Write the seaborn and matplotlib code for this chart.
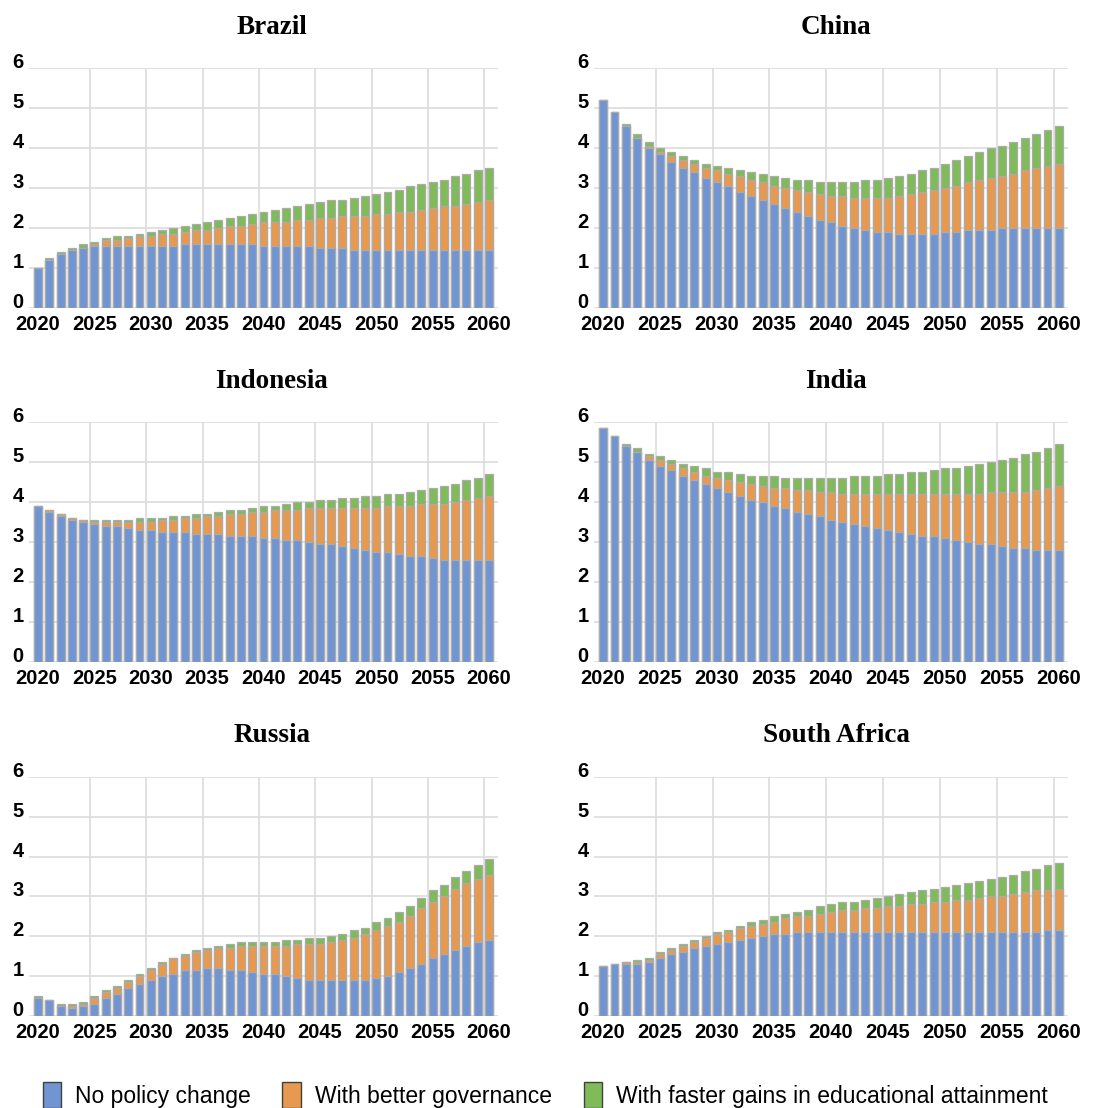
import matplotlib
matplotlib.use("Agg")
import matplotlib.pyplot as plt
from matplotlib.patches import Patch
import seaborn as sns

YEARS = [str(y) for y in range(2020, 2061)]

# levels (stacked tops): base, + governance, + education
brazil_base = [1.0, 1.2, 1.35, 1.45, 1.5, 1.55, 1.55, 1.55, 1.55, 1.55, 1.55, 1.55, 1.55, 1.6, 1.6, 1.6, 1.6, 1.6, 1.6, 1.6,
               1.55, 1.55, 1.55, 1.55, 1.55, 1.5, 1.5, 1.5, 1.45, 1.45, 1.45, 1.45, 1.45, 1.45, 1.45, 1.45, 1.45, 1.45, 1.45, 1.45, 1.45]
brazil_gov = [1.0, 1.2, 1.35, 1.45, 1.5, 1.6, 1.7, 1.7, 1.75, 1.8, 1.8, 1.85, 1.85, 1.9, 1.95, 1.95, 2.0, 2.05, 2.05, 2.1,
              2.15, 2.15, 2.15, 2.2, 2.2, 2.25, 2.25, 2.3, 2.3, 2.3, 2.35, 2.35, 2.4, 2.4, 2.45, 2.5, 2.55, 2.55, 2.6, 2.65, 2.7]
brazil_edu = [1.0, 1.25, 1.4, 1.5, 1.6, 1.65, 1.75, 1.8, 1.8, 1.85, 1.9, 1.95, 2.0, 2.05, 2.1, 2.15, 2.2, 2.25, 2.3, 2.35,
              2.4, 2.45, 2.5, 2.55, 2.6, 2.65, 2.7, 2.7, 2.75, 2.8, 2.85, 2.9, 2.95, 3.05, 3.1, 3.15, 3.2, 3.3, 3.35, 3.45, 3.5]

china_base = [5.2, 4.9, 4.55, 4.25, 4.0, 3.85, 3.65, 3.5, 3.4, 3.25, 3.15, 3.05, 2.9, 2.8, 2.7, 2.6, 2.5, 2.4, 2.3, 2.2,
              2.15, 2.05, 2.0, 1.95, 1.9, 1.9, 1.85, 1.85, 1.85, 1.85, 1.9, 1.9, 1.95, 1.95, 1.95, 2.0, 2.0, 2.0, 2.0, 2.0, 2.0]
china_gov = [5.2, 4.9, 4.55, 4.25, 4.05, 3.9, 3.8, 3.7, 3.6, 3.5, 3.45, 3.35, 3.3, 3.2, 3.15, 3.05, 3.0, 2.95, 2.9, 2.85,
             2.8, 2.8, 2.75, 2.75, 2.75, 2.75, 2.8, 2.85, 2.9, 2.95, 3.0, 3.05, 3.15, 3.2, 3.25, 3.3, 3.35, 3.45, 3.5, 3.55, 3.6]
china_edu = [5.2, 4.9, 4.6, 4.35, 4.15, 4.0, 3.9, 3.8, 3.7, 3.6, 3.55, 3.5, 3.45, 3.4, 3.35, 3.3, 3.25, 3.2, 3.2, 3.15,
             3.15, 3.15, 3.15, 3.2, 3.2, 3.25, 3.3, 3.35, 3.45, 3.5, 3.6, 3.7, 3.8, 3.9, 4.0, 4.05, 4.15, 4.25, 4.35, 4.45, 4.55]

indonesia_base = [3.9, 3.75, 3.65, 3.55, 3.5, 3.45, 3.4, 3.4, 3.35, 3.3, 3.3, 3.25, 3.25, 3.25, 3.2, 3.2, 3.2, 3.15, 3.15, 3.15,
                  3.1, 3.1, 3.05, 3.05, 3.0, 2.95, 2.95, 2.9, 2.85, 2.8, 2.75, 2.75, 2.7, 2.65, 2.65, 2.6, 2.55, 2.55, 2.55, 2.55, 2.55]
indonesia_gov = [3.9, 3.8, 3.7, 3.6, 3.55, 3.5, 3.5, 3.5, 3.5, 3.5, 3.5, 3.55, 3.55, 3.6, 3.6, 3.65, 3.65, 3.7, 3.7, 3.75,
                 3.75, 3.8, 3.8, 3.8, 3.85, 3.85, 3.85, 3.85, 3.85, 3.85, 3.85, 3.9, 3.9, 3.9, 3.95, 3.95, 3.95, 4.0, 4.05, 4.1, 4.15]
indonesia_edu = [3.9, 3.8, 3.7, 3.6, 3.55, 3.55, 3.55, 3.55, 3.55, 3.6, 3.6, 3.6, 3.65, 3.65, 3.7, 3.7, 3.75, 3.8, 3.8, 3.85,
                 3.9, 3.9, 3.95, 4.0, 4.0, 4.05, 4.05, 4.1, 4.1, 4.15, 4.15, 4.2, 4.2, 4.25, 4.3, 4.35, 4.4, 4.45, 4.55, 4.6, 4.7]

india_base = [5.85, 5.65, 5.4, 5.25, 5.05, 4.9, 4.8, 4.65, 4.55, 4.45, 4.35, 4.25, 4.15, 4.05, 4.0, 3.9, 3.85, 3.75, 3.7, 3.65,
              3.55, 3.5, 3.45, 3.4, 3.35, 3.3, 3.25, 3.2, 3.15, 3.15, 3.1, 3.05, 3.0, 2.95, 2.95, 2.9, 2.85, 2.85, 2.8, 2.8, 2.8]
india_gov = [5.85, 5.65, 5.4, 5.25, 5.15, 5.05, 4.95, 4.85, 4.75, 4.65, 4.6, 4.55, 4.5, 4.45, 4.4, 4.35, 4.35, 4.3, 4.3, 4.25,
             4.25, 4.2, 4.2, 4.2, 4.2, 4.2, 4.2, 4.2, 4.2, 4.2, 4.2, 4.2, 4.2, 4.2, 4.25, 4.25, 4.25, 4.25, 4.3, 4.35, 4.4]
india_edu = [5.85, 5.65, 5.45, 5.35, 5.2, 5.15, 5.05, 4.95, 4.9, 4.85, 4.75, 4.75, 4.7, 4.65, 4.65, 4.65, 4.6, 4.6, 4.6, 4.6,
             4.6, 4.6, 4.65, 4.65, 4.65, 4.7, 4.7, 4.75, 4.75, 4.8, 4.85, 4.85, 4.9, 4.95, 5.0, 5.05, 5.1, 5.2, 5.25, 5.35, 5.45]

russia_base = [0.45, 0.4, 0.25, 0.2, 0.25, 0.3, 0.45, 0.55, 0.7, 0.8, 0.9, 1.0, 1.05, 1.15, 1.15, 1.2, 1.2, 1.15, 1.15, 1.1,
               1.05, 1.05, 1.0, 0.95, 0.9, 0.9, 0.9, 0.9, 0.9, 0.9, 0.95, 1.0, 1.1, 1.2, 1.3, 1.45, 1.55, 1.65, 1.75, 1.85, 1.9]
russia_gov = [0.45, 0.4, 0.25, 0.25, 0.3, 0.45, 0.6, 0.7, 0.85, 1.0, 1.15, 1.3, 1.45, 1.5, 1.6, 1.65, 1.7, 1.7, 1.75, 1.75,
              1.75, 1.75, 1.75, 1.8, 1.8, 1.8, 1.85, 1.9, 1.95, 2.05, 2.15, 2.25, 2.35, 2.5, 2.7, 2.85, 3.0, 3.2, 3.35, 3.45, 3.55]
russia_edu = [0.5, 0.4, 0.3, 0.3, 0.35, 0.5, 0.65, 0.75, 0.9, 1.05, 1.2, 1.35, 1.45, 1.55, 1.65, 1.7, 1.75, 1.8, 1.85, 1.85,
              1.85, 1.85, 1.9, 1.9, 1.95, 1.95, 2.0, 2.05, 2.15, 2.2, 2.35, 2.45, 2.6, 2.75, 2.95, 3.15, 3.3, 3.5, 3.65, 3.8, 3.95]

safrica_base = [1.25, 1.3, 1.3, 1.3, 1.35, 1.45, 1.55, 1.6, 1.7, 1.75, 1.8, 1.85, 1.9, 1.95, 2.0, 2.05, 2.05, 2.1, 2.1, 2.1,
                2.1, 2.1, 2.1, 2.1, 2.1, 2.1, 2.1, 2.1, 2.1, 2.1, 2.1, 2.1, 2.1, 2.1, 2.1, 2.1, 2.1, 2.1, 2.1, 2.15, 2.15]
safrica_gov = [1.25, 1.3, 1.35, 1.35, 1.4, 1.55, 1.65, 1.75, 1.85, 1.95, 2.05, 2.1, 2.2, 2.25, 2.3, 2.35, 2.45, 2.5, 2.5, 2.55,
               2.6, 2.65, 2.65, 2.7, 2.7, 2.75, 2.75, 2.8, 2.8, 2.85, 2.85, 2.9, 2.9, 2.95, 3.0, 3.0, 3.05, 3.1, 3.15, 3.15, 3.2]
safrica_edu = [1.25, 1.3, 1.35, 1.4, 1.45, 1.6, 1.7, 1.8, 1.9, 2.0, 2.1, 2.15, 2.25, 2.35, 2.4, 2.5, 2.55, 2.6, 2.65, 2.75,
               2.8, 2.85, 2.85, 2.9, 2.95, 3.0, 3.05, 3.1, 3.15, 3.2, 3.25, 3.3, 3.35, 3.4, 3.45, 3.5, 3.55, 3.65, 3.7, 3.8, 3.85]

COUNTRIES = ["Brazil", "China", "Indonesia", "India", "Russia", "South Africa"]
SERIES = {
    "Brazil": (brazil_base, brazil_gov, brazil_edu),
    "China": (china_base, china_gov, china_edu),
    "Indonesia": (indonesia_base, indonesia_gov, indonesia_edu),
    "India": (india_base, india_gov, india_edu),
    "Russia": (russia_base, russia_gov, russia_edu),
    "South Africa": (safrica_base, safrica_gov, safrica_edu),
}
LABELS = ["No policy change", "With better governance", "With faster gains in educational attainment"]
COLORS = ["#7195d2", "#e6994f", "#7fbb58"]
EDGE = "#ababab"

sns.set_style("white")
plt.rcParams["font.family"] = ["Liberation Sans", "DejaVu Sans"]

W, H = 1095, 1108
fig = plt.figure(figsize=(W / 100, H / 100), dpi=100)

# pixel boxes (left, right, top, bottom) of each plot area
cols = [(29, 498), (594, 1068)]
rows = [(67.7, 308.3), (422.4, 661.7), (777.2, 1015.7)]
title_y = [27, 381, 736]
title_x = [272, 836]

for k, name in enumerate(COUNTRIES):
    r, c = divmod(k, 2)
    x0, x1 = cols[c]
    top, bot = rows[r]
    ax = fig.add_axes([x0 / W, 1 - bot / H, (x1 - x0) / W, (bot - top) / H])
    base, gov, edu = SERIES[name]
    # draw from the tallest level down so the segments look stacked
    for vals, col in zip([edu, gov, base], COLORS[::-1]):
        sns.barplot(x=YEARS, y=vals, color=col, saturation=1, width=0.7, edgecolor=EDGE,
                    linewidth=0.9, errorbar=None, ax=ax)
    ax.set_xlim(-0.8, 40.8)
    ax.set_ylim(0, 6)
    ax.set_xticks(range(0, 41, 5))
    ax.set_xticklabels(YEARS[::5], fontsize=14.5, fontweight="bold", color="black")
    ax.set_xticks([i - 0.4 for i in range(5, 41, 5)], minor=True)
    ax.set_yticks(range(0, 7))
    # y labels sit a little above their gridlines in the original
    ax.set_yticklabels([str(v) for v in range(0, 7)], fontsize=14.5, fontweight="bold",
                       color="black", va="baseline")
    ax.tick_params(axis="both", which="both", length=0)
    ax.tick_params(axis="x", pad=5)
    ax.tick_params(axis="y", pad=4)
    ax.set_axisbelow(True)
    ax.grid(axis="y", which="major", color="#dcdcdc", linewidth=1.2)
    ax.grid(axis="x", which="minor", color="#dcdcdc", linewidth=1.2)
    ax.grid(axis="x", which="major", visible=False)
    ax.set_xlabel("")
    ax.set_ylabel("")
    for s in ax.spines.values():
        s.set_visible(False)
    fig.text(title_x[c] / W, 1 - title_y[r] / H, name, ha="center", va="center",
             fontsize=19.5, fontweight="bold", family="Liberation Serif", color="black")

handles = [Patch(facecolor=col, edgecolor="#404040", linewidth=1.0) for col in COLORS]
fig.legend(handles, LABELS, loc="center", bbox_to_anchor=(545 / W, 1 - 1095 / H), ncol=3,
           frameon=False, fontsize=16.5, handlelength=0.8, handleheight=1.4,
           handletextpad=0.6, columnspacing=1.4, labelcolor="black")

fig.savefig("out.png", dpi=100)
